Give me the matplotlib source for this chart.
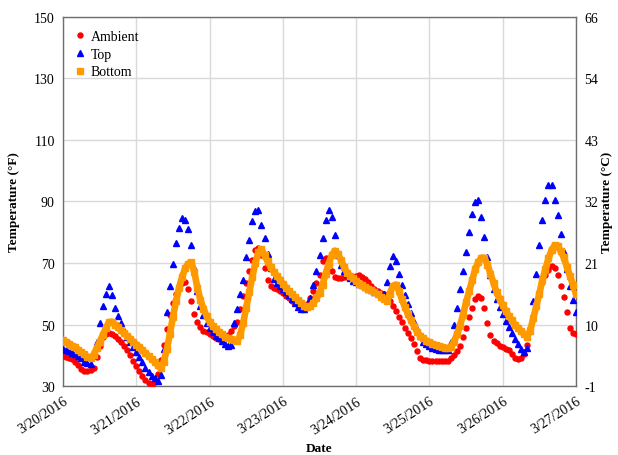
import matplotlib
matplotlib.use("Agg")
import matplotlib.pyplot as plt
import matplotlib.dates as mdates
import pandas as pd

plt.rcParams["font.family"] = ["Liberation Serif", "DejaVu Serif"]

# Hourly readings, 3/20/2016 00:00 through 3/27/2016 00:00 (°F)
start = "2016-03-20"
hours = 169

ambient = [
    39.9, 39.6, 39.3, 38.9, 38.0, 36.8, 35.5, 35.0, 35.0, 35.3,
    36.0, 39.5, 43.0, 46.0, 47.0, 47.4, 47.0, 46.3, 45.4, 44.3,
    43.1, 41.8, 40.1, 38.3, 36.7, 34.8, 33.2, 32.0, 31.0, 30.8,
    31.5, 34.0, 38.5, 43.5, 48.5, 53.0, 57.0, 60.0, 62.2, 63.4,
    63.8, 61.5, 57.5, 53.5, 51.0, 49.2, 48.0, 47.5, 47.0, 46.4,
    45.8, 45.3, 45.2, 45.5, 46.5, 47.8, 49.5, 51.0, 55.0, 59.4,
    63.5, 67.3, 71.0, 74.3, 75.0, 72.6, 68.5, 64.5, 62.5, 62.0,
    61.5, 61.0, 60.2, 59.4, 58.5, 57.8, 57.0, 56.3, 56.0, 56.0,
    56.8, 58.5, 61.0, 63.5, 66.0, 70.5, 71.5, 70.0, 67.5, 65.5,
    65.2, 65.2, 65.3, 65.3, 65.4, 65.6, 65.8, 66.0, 65.6, 64.9,
    63.8, 62.6, 61.7, 61.0, 60.4, 59.8, 59.2, 57.6, 56.0, 54.3,
    52.6, 51.0, 49.0, 47.2, 45.6, 43.8, 41.5, 39.2, 38.6, 38.4,
    38.3, 38.2, 38.2, 38.2, 38.2, 38.2, 38.3, 39.0, 40.2, 41.5,
    43.1, 46.0, 48.8, 52.5, 55.5, 58.3, 59.2, 58.5, 55.5, 50.5,
    46.5, 44.8, 44.0, 43.2, 42.7, 42.2, 41.6, 40.5, 39.3, 38.8,
    39.1, 40.5, 43.5, 47.8, 52.5, 57.0, 60.5, 63.8, 66.2, 67.8,
    69.0, 68.5, 66.2, 62.5, 59.0, 54.0, 49.0, 47.2, 46.9,
]

top = [
    42.0, 41.6, 41.3, 40.9, 40.5, 39.9, 39.0, 37.9, 37.4, 37.3,
    40.0, 44.2, 50.5, 56.0, 59.8, 62.4, 59.5, 55.5, 52.9, 50.4,
    48.0, 46.0, 44.4, 42.8, 41.1, 39.4, 37.8, 36.0, 34.5, 33.4,
    32.6, 31.8, 33.5, 42.0, 54.0, 62.5, 69.8, 76.5, 81.5, 84.5,
    84.0, 81.1, 76.0, 68.5, 61.0, 56.0, 53.0, 50.5, 48.8, 47.5,
    46.4, 45.5, 44.6, 43.8, 42.9, 43.4, 50.5, 55.0, 59.8, 64.5,
    71.8, 77.5, 83.5, 87.0, 87.2, 82.5, 78.0, 73.0, 68.5, 64.8,
    63.6, 62.6, 61.6, 60.5, 59.6, 58.3, 57.0, 55.8, 55.0, 55.2,
    56.5, 58.5, 63.0, 67.5, 72.5, 78.0, 84.0, 87.2, 85.0, 79.0,
    72.5, 69.5, 67.5, 66.3, 65.2, 64.2, 63.7, 63.2, 62.7, 62.2,
    61.7, 61.2, 60.7, 60.2, 59.6, 59.8, 63.7, 69.0, 72.3, 70.5,
    66.5, 62.8, 59.6, 56.8, 53.8, 51.0, 48.6, 46.3, 44.4, 43.6,
    43.0, 42.5, 42.1, 41.9, 41.7, 41.6, 41.6, 44.5, 50.0, 55.5,
    61.5, 67.5, 73.5, 80.0, 85.8, 89.8, 90.6, 85.0, 78.5, 72.0,
    66.0, 61.5, 58.3, 55.8, 53.5, 51.3, 49.3, 47.3, 45.3, 43.6,
    42.2, 41.2, 42.5, 49.5, 57.5, 66.5, 76.0, 84.0, 90.5, 95.5,
    95.5, 90.5, 85.5, 79.5, 73.5, 68.0, 62.6, 58.0, 54.0,
]

bottom = [
    45.0, 44.4, 43.8, 43.2, 42.6, 41.8, 41.0, 40.3, 39.6, 39.1,
    40.2, 42.3, 44.4, 46.6, 48.8, 50.8, 50.9, 50.0, 49.1, 48.1,
    47.2, 46.3, 45.4, 44.4, 43.5, 42.6, 41.7, 40.7, 39.8, 38.9,
    37.9, 36.8, 35.8, 38.0, 42.0, 47.0, 52.5, 57.5, 62.0, 65.5,
    68.3, 69.8, 70.2, 67.0, 62.0, 58.0, 55.2, 52.8, 50.9, 49.6,
    48.6, 47.7, 46.8, 46.1, 45.6, 45.2, 44.9, 44.7, 46.5, 50.5,
    55.5, 60.5, 65.5, 70.0, 73.5, 74.5, 72.5, 70.5, 68.6, 67.2,
    65.9, 64.6, 63.3, 62.0, 60.8, 59.8, 58.9, 58.0, 57.1, 56.2,
    55.6, 56.0, 57.0, 58.5, 60.4, 63.0, 66.5, 69.8, 72.5, 74.0,
    73.0, 71.0, 68.8, 66.9, 65.9, 65.0, 64.1, 63.3, 62.7, 62.2,
    61.7, 61.2, 60.6, 59.9, 59.1, 58.4, 57.7, 60.0, 62.5, 63.0,
    61.0, 58.2, 55.6, 53.3, 51.4, 49.5, 47.6, 46.3, 45.5, 44.8,
    44.2, 43.8, 43.4, 43.1, 42.8, 42.5, 42.3, 42.6, 44.4, 46.8,
    49.6, 53.2, 57.2, 60.8, 64.5, 68.0, 70.3, 71.7, 71.7, 69.5,
    66.5, 63.5, 60.5, 58.3, 56.3, 54.4, 52.8, 51.4, 50.0, 48.9,
    47.9, 46.9, 46.0, 48.0, 52.0, 56.0, 60.0, 64.5, 68.0, 71.5,
    74.2, 75.7, 75.6, 73.8, 71.8, 68.8, 65.9, 63.0, 60.0,
]

f_ticks = [30, 50, 70, 90, 110, 130, 150]
date_ticks = pd.date_range("2016-03-20", "2016-03-27", freq="D")

times = pd.date_range(start, periods=hours, freq="h")

fig = plt.figure(figsize=(6.18, 4.56), dpi=100)
ax = fig.add_axes([0.102, 0.151, 0.830, 0.810])

ax.plot(times, ambient, ls="none", marker="o", ms=3.6, color="#ff0000",
        mec="#ff0000", label="Ambient", zorder=3)
ax.plot(times, top, ls="none", marker="^", ms=4.2, color="#0000ff",
        mec="#0000ff", label="Top", zorder=4)
ax.plot(times, bottom, ls="-", lw=4.8, color="#ff9900", zorder=5,
        solid_capstyle="round", label="_nolegend_")
ax.plot(times, bottom, ls="none", marker="s", ms=4.0, color="#ff9900",
        mec="#ff9900", label="Bottom", zorder=5)

ax.set_ylim(30, 150)
ax.set_yticks(f_ticks)
ax.set_xlim(date_ticks[0], date_ticks[-1])
ax.set_xticks(date_ticks)
ax.xaxis.set_major_formatter(
    matplotlib.ticker.FuncFormatter(
        lambda v, p: (lambda d: f"{d.month}/{d.day}/{d.year}")(mdates.num2date(v))))

ax.grid(True, color="#d9d9d9", lw=1.0)
ax.set_axisbelow(True)
for s in ax.spines.values():
    s.set_color("#6e6e6e")
    s.set_linewidth(1.0)

ax.tick_params(axis="both", length=0, labelsize=10, pad=6)
for lbl in ax.get_xticklabels():
    lbl.set_rotation(33)
    lbl.set_ha("right")
    lbl.set_rotation_mode("anchor")

ax.set_ylabel("Temperature (°F)", fontsize=9.5, fontweight="bold", labelpad=10)
ax.set_xlabel("Date", fontsize=9.5, fontweight="bold", labelpad=4)

# Celsius scale on the right, same tick positions
ax2 = ax.twinx()
ax2.set_ylim(ax.get_ylim())
ax2.set_yticks(f_ticks)
ax2.set_yticklabels([f"{round((f - 32) * 5 / 9):d}" for f in f_ticks])
ax2.tick_params(axis="y", length=0, labelsize=10, pad=6)
for s in ax2.spines.values():
    s.set_visible(False)
ax2.set_ylabel("Temperature (°C)", fontsize=9.5, fontweight="bold", labelpad=2)

leg = ax.legend(loc="upper left", frameon=False, fontsize=10, markerscale=1.0,
                handlelength=0.8, handletextpad=0.4, labelspacing=0.35,
                borderaxespad=0.4, bbox_to_anchor=(0.0, 0.995))

fig.savefig("out.png", dpi=100)
